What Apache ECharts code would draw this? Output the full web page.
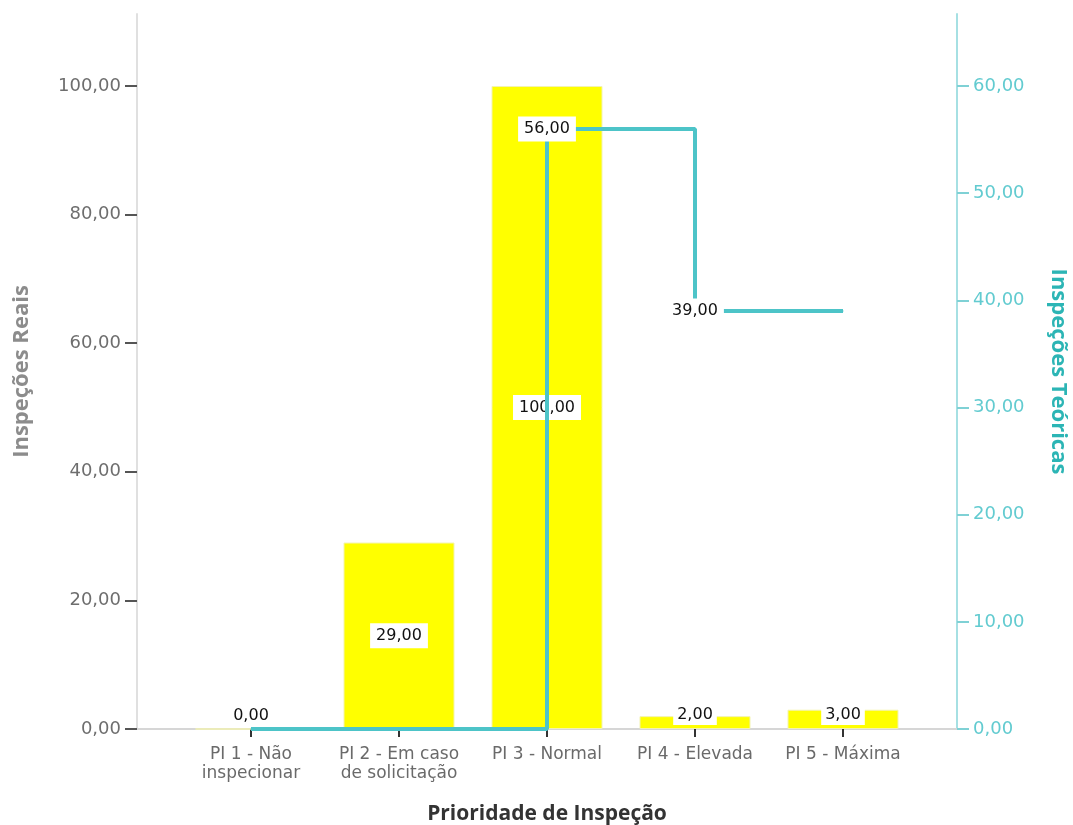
<!DOCTYPE html>
<html>
<head>
<meta charset="utf-8">
<script src="https://cdn.jsdelivr.net/npm/echarts@6/dist/echarts.min.js"></script>
<style>
  html, body { margin: 0; padding: 0; background: #fff; }
  #chart { width: 1073px; height: 825px; }
</style>
</head>
<body>
<div id="chart"></div>
<script>
// Inspection priority categories
const categories = [
  'PI 1 - Não\ninspecionar',
  'PI 2 - Em caso\nde solicitação',
  'PI 3 - Normal',
  'PI 4 - Elevada',
  'PI 5 - Máxima'
];
// Actual inspections (bars, left axis)
const inspecoesReais = [0, 29, 100, 2, 3];
// Theoretical inspections (step line, right axis)
const inspecoesTeoricas = [0, 0, 56, 39, 39];
// Which points of the step line carry a value label
const teoricasLabelShown = [false, false, true, true, false];
// Tick values
const leftTicks = [0, 20, 40, 60, 80, 100];
const rightTicks = [0, 10, 20, 30, 40, 50, 60];
const categoryTicks = [0, 1, 2, 3, 4];

const fmt = v => v.toFixed(2).replace('.', ',');
const FONT = 'DejaVu Sans';
const TITLE_FONT = 'Open Sans';
const LINE_COLOR = '#4dc4c8';

const labelBox = {
  color: '#111',
  fontFamily: FONT,
  fontSize: 16,
  backgroundColor: '#ffffff',
  padding: [5, 6, 4, 6]
};

const barData = inspecoesReais.map((v, i) => {
  const item = { value: [i, v] };
  if (v < 10) {
    item.label = { position: 'insideBottom', distance: 4, padding: [3, 4, 2, 4] };
  }
  return item;
});

const lineData = inspecoesTeoricas.map((v, i) => ({
  value: [i, v],
  label: { show: teoricasLabelShown[i] }
}));

const chart = echarts.init(document.getElementById('chart'), null, { renderer: 'canvas' });
chart.setOption({
  animation: false,
  backgroundColor: '#ffffff',
  grid: { left: 137, right: 116, top: 14, bottom: 96, outerBoundsMode: 'none' },
  xAxis: {
    type: 'value',
    min: -114 / 148,
    max: 4 + 114 / 148,
    name: 'Prioridade de Inspeção',
    nameLocation: 'middle',
    nameGap: 75,
    nameTextStyle: { fontFamily: TITLE_FONT, fontWeight: 'bold', fontSize: 21, color: '#333' },
    splitLine: { show: false },
    axisLine: { show: true, onZero: false, lineStyle: { color: '#d6d6d6', width: 2 } },
    axisTick: { show: true, customValues: categoryTicks, length: 8, lineStyle: { color: '#333', width: 2 } },
    axisLabel: {
      customValues: categoryTicks,
      formatter: v => categories[Math.round(v)],
      fontFamily: FONT,
      fontSize: 17,
      lineHeight: 19,
      color: '#6a6a6a',
      margin: 16
    }
  },
  yAxis: [
    {
      type: 'value',
      min: 0,
      max: 111.2,
      position: 'left',
      name: 'Inspeções Reais',
      nameLocation: 'middle',
      nameRotate: 90,
      nameGap: 104,
      nameTextStyle: { fontFamily: TITLE_FONT, fontWeight: 'bold', fontSize: 22, color: '#8c8c8c' },
      splitLine: { show: false },
      axisLine: { show: true, onZero: false, lineStyle: { color: '#e0e0e0', width: 2 } },
      axisTick: { show: true, customValues: leftTicks, length: 12, lineStyle: { color: '#555', width: 2 } },
      axisLabel: { customValues: leftTicks, formatter: fmt, fontFamily: FONT, fontSize: 18, color: '#6e6e6e', margin: 16 }
    },
    {
      type: 'value',
      min: 0,
      max: 66.72,
      position: 'right',
      name: 'Inspeções Teóricas',
      nameLocation: 'middle',
      nameRotate: -90,
      nameGap: 90,
      nameTextStyle: { fontFamily: TITLE_FONT, fontWeight: 'bold', fontSize: 22, color: '#2cb5b5' },
      splitLine: { show: false },
      axisLine: { show: true, onZero: false, lineStyle: { color: '#a6e0e3', width: 2 } },
      axisTick: { show: true, customValues: rightTicks, length: 12, lineStyle: { color: '#7fd1d5', width: 2 } },
      axisLabel: { customValues: rightTicks, formatter: fmt, fontFamily: FONT, fontSize: 18, color: '#62cbd0', margin: 16 }
    }
  ],
  series: [
    {
      name: 'Inspeções Reais',
      type: 'bar',
      xAxisIndex: 0,
      yAxisIndex: 0,
      barWidth: 111,
      z: 2,
      data: barData,
      itemStyle: { color: '#ffff00', borderColor: '#f3f3b0', borderWidth: 1 },
      label: Object.assign({ show: true, position: 'inside', formatter: p => fmt(p.value[1]) }, labelBox)
    },
    {
      name: 'Inspeções Teóricas',
      type: 'line',
      xAxisIndex: 0,
      yAxisIndex: 1,
      step: 'end',
      z: 5,
      symbol: 'rect',
      symbolSize: 1,
      showSymbol: true,
      itemStyle: { color: LINE_COLOR },
      data: lineData,
      lineStyle: { color: LINE_COLOR, width: 4 },
      label: Object.assign({ show: false, position: 'inside', formatter: p => fmt(p.value[1]) }, labelBox)
    }
  ]
});
</script>
</body>
</html>
